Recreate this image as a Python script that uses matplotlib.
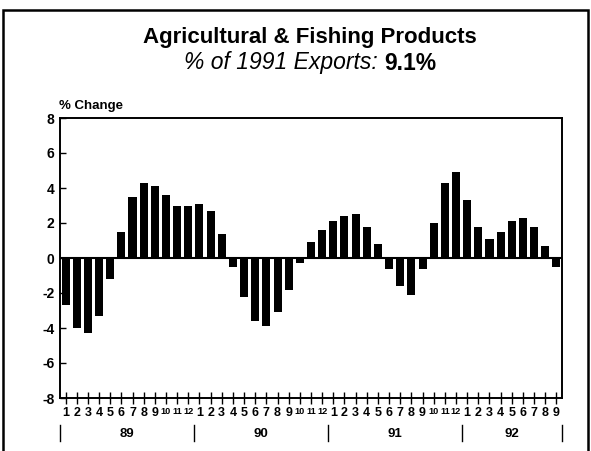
import matplotlib
matplotlib.use("Agg")
import matplotlib.pyplot as plt
import matplotlib.transforms as mtransforms
from matplotlib.patches import Rectangle

# data: monthly % change, Jan 89 .. Sep 92
years = ["89", "90", "91", "92"]
months_per_year = [12, 12, 12, 9]
month_labels = [str(m) for n in months_per_year for m in range(1, n + 1)]
pct_change = [-2.7, -4.0, -4.3, -3.3, -1.2, 1.5, 3.5, 4.3, 4.1, 3.6, 3.0, 3.0,
              3.1, 2.7, 1.4, -0.5, -2.2, -3.6, -3.9, -3.1, -1.8, -0.3, 0.9, 1.6,
              2.1, 2.4, 2.5, 1.8, 0.8, -0.6, -1.6, -2.1, -0.6, 2.0, 4.3, 4.9,
              3.3, 1.8, 1.1, 1.5, 2.1, 2.3, 1.8, 0.7, -0.5]
y_ticks = [8, 6, 4, 2, 0, -2, -4, -6, -8]

plt.rcParams['font.family'] = ['Liberation Sans', 'DejaVu Sans']

W, H = 591, 451
fig = plt.figure(figsize=(W / 100, H / 100), dpi=100)

# outer frame
fig.patches.append(Rectangle((3 / W, -0.02), 585 / W, 1.0 - 10 / H + 0.02,
                             transform=fig.transFigure, fill=False,
                             edgecolor='black', linewidth=1.8))

ax = fig.add_axes([60 / W, 1 - 398 / H, 502 / W, 280 / H])

x = list(range(len(pct_change)))
ax.bar(x, pct_change, width=0.72, color='black')
ax.axhline(0, color='black', linewidth=1.5)

ax.set_xlim(-0.5, len(pct_change) - 0.5)
ax.set_ylim(-8, 8)
ax.set_yticks(y_ticks)
ax.set_yticklabels([str(v) for v in y_ticks], fontweight='heavy', fontsize=10)
ax.tick_params(axis='y', direction='in', length=4, width=1, pad=4)

ax.set_xticks(x)
ax.set_xticklabels(month_labels, fontweight='heavy', fontsize=9)
ax.tick_params(axis='x', direction='inout', length=8, width=1, pad=2.5)
# two-digit months are squeezed so they fit in one slot
for lab in ax.get_xticklabels():
    if len(lab.get_text()) > 1:
        lab.set_fontsize(6.6)

for s in ax.spines.values():
    s.set_linewidth(1.4)

# year separators and labels under the month numbers
trans = mtransforms.blended_transform_factory(ax.transData, ax.transAxes)
edge = -0.5
for yr, n in zip(years, months_per_year):
    ax.plot([edge, edge], [-0.096, -0.154], color='black', linewidth=1,
            transform=trans, clip_on=False)
    ax.text(edge + n / 2, -0.13, yr, transform=trans, ha='center', va='center',
            fontweight='heavy', fontsize=9.5)
    edge += n
ax.plot([edge, edge], [-0.096, -0.154], color='black', linewidth=1,
        transform=trans, clip_on=False)

# y axis caption
fig.text(59 / W, 1 - 106 / H, "% Change", fontweight='heavy', fontsize=9.5,
         ha='left', va='center')

# titles
cx = 310 / W
fig.text(cx, 1 - 37 / H, "Agricultural & Fishing Products", fontweight='heavy',
         fontsize=16, ha='center', va='center')

sub_y = 1 - 63 / H
renderer = fig.canvas.get_renderer()
t1 = fig.text(0, sub_y, "% of 1991 Exports: ", style='italic', fontsize=16.5,
              ha='left', va='center')
t2 = fig.text(0, sub_y, "9.1%", fontweight='heavy', fontsize=16.5,
              ha='left', va='center')
w1 = t1.get_window_extent(renderer).width
w2 = t2.get_window_extent(renderer).width
x0 = cx * W - (w1 + w2) / 2
t1.set_x(x0 / W)
t2.set_x((x0 + w1) / W)

fig.savefig("out.png", dpi=100)
